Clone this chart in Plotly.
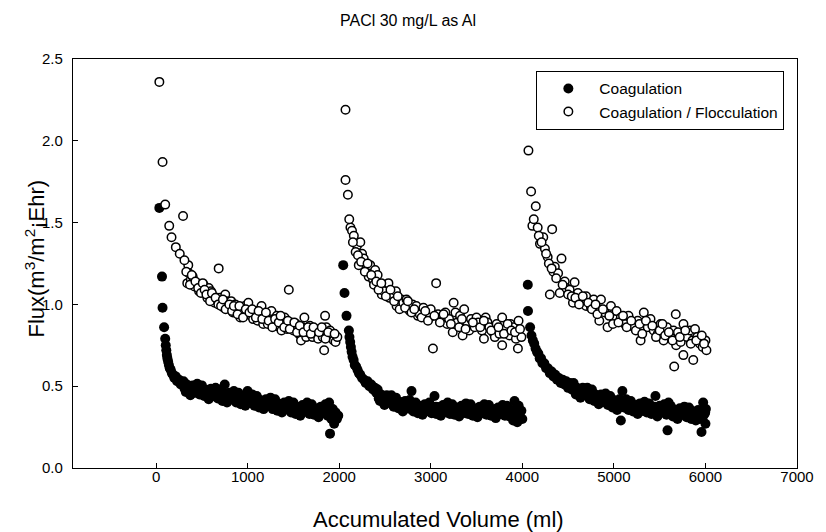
import plotly.graph_objects as go

# ---------------- data ----------------
title_text = "PACl 30 mg/L as Al"
x_title = "Accumulated Volume (ml)"
y_title = "Flux(m<sup>3</sup>/m<sup>2</sup>¡Ehr)"
series_names = ["Coagulation", "Coagulation / Flocculation"]
x_ticks = [0, 1000, 2000, 3000, 4000, 5000, 6000, 7000]
y_ticks = [0.0, 0.5, 1.0, 1.5, 2.0, 2.5]

# Coagulation (filled circles)
coag_volume = [
    36, 65, 71, 88, 100, 106, 112, 118, 124, 132, 140, 150, 160, 172, 185, 200, 215, 230, 250, 270, 285,
    300, 325, 350, 375, 400, 425, 450, 475, 500, 525, 550, 575, 600, 625, 650, 675, 700, 725, 750, 775,
    800, 825, 850, 875, 900, 925, 950, 975, 1000, 1025, 1050, 1075, 1100, 1125, 1150, 1175, 1200, 1225,
    1250, 1275, 1300, 1325, 1350, 1375, 1400, 1425, 1450, 1475, 1500, 1525, 1550, 1575, 1600, 1625, 1650,
    1675, 1700, 1725, 1750, 1775, 1800, 1825, 1850, 1875, 1890, 1900, 1915, 1930, 1945, 1960, 1975, 1990,
    2044, 2058, 2080, 2106, 2112, 2120, 2128, 2136, 2146, 2158, 2170, 2185, 2200, 2215, 2230, 2250, 2270,
    2290, 2310, 2330, 2350, 2370, 2390, 2405,
    2420, 2445, 2470, 2495, 2520, 2545, 2570, 2595, 2620, 2645, 2670, 2695, 2720, 2745, 2770, 2790, 2810,
    2835, 2860, 2885, 2910, 2935, 2960, 2985, 3010, 3041, 3060, 3085, 3110, 3135, 3160, 3185, 3210, 3235,
    3260, 3285, 3310, 3335, 3360, 3385, 3410, 3435, 3460, 3485, 3510, 3535, 3560, 3585, 3610, 3635, 3660,
    3685, 3710, 3735, 3760, 3785, 3810, 3835, 3860, 3885, 3900, 3915, 3930, 3945, 3960, 3975, 3990, 4000,
    4060, 4062, 4085, 4100, 4115, 4130, 4145, 4160, 4175, 4190, 4205, 4220, 4240, 4260, 4280, 4300, 4320,
    4340, 4360, 4380, 4400, 4420, 4440, 4460, 4480, 4500, 4520, 4540,
    4560, 4585, 4610, 4635, 4660, 4685, 4710, 4735, 4760, 4785, 4810, 4835, 4860, 4885, 4910, 4935, 4960,
    4985, 5010, 5035, 5060, 5076, 5093, 5110, 5135, 5160, 5185, 5210, 5235, 5260, 5285, 5310, 5335, 5360,
    5385, 5410, 5435, 5454, 5475, 5500, 5525, 5550, 5575, 5586, 5597, 5620, 5645, 5670, 5695, 5720, 5745,
    5770, 5795, 5820, 5845, 5870, 5895, 5920, 5940, 5957, 5975, 5990, 6000, 6005,
]
coag_flux = [
    1.59, 1.17, 0.98, 0.86, 0.79, 0.75, 0.72, 0.69, 0.67, 0.65, 0.63, 0.61, 0.60, 0.58, 0.57, 0.55, 0.56, 0.53, 0.54, 0.51, 0.52,
    0.53, 0.465, 0.50, 0.445, 0.505, 0.46, 0.515, 0.45, 0.505, 0.44, 0.475, 0.42, 0.485, 0.44, 0.49, 0.425, 0.48, 0.41, 0.51, 0.40,
    0.46, 0.42, 0.47, 0.40, 0.46, 0.39, 0.43, 0.38, 0.47, 0.40, 0.45, 0.38, 0.44, 0.37, 0.41, 0.36, 0.42, 0.38,
    0.43, 0.36, 0.42, 0.35, 0.39, 0.34, 0.40, 0.36, 0.41, 0.34, 0.40, 0.33, 0.37, 0.32, 0.385, 0.345, 0.40,
    0.33, 0.39, 0.325, 0.36, 0.31, 0.375, 0.335, 0.39, 0.32, 0.40, 0.21, 0.30, 0.36, 0.27, 0.34, 0.30, 0.32,
    1.24, 1.07, 0.93, 0.84, 0.80, 0.77, 0.74, 0.71, 0.68, 0.66, 0.63, 0.62, 0.60, 0.58, 0.57, 0.55, 0.54,
    0.52, 0.53, 0.50, 0.51, 0.48, 0.49, 0.46,
    0.48, 0.41, 0.44, 0.385, 0.445, 0.40, 0.445, 0.375, 0.43, 0.365, 0.40, 0.345, 0.41, 0.365, 0.415, 0.47, 0.345,
    0.40, 0.335, 0.375, 0.325, 0.39, 0.35, 0.40, 0.335, 0.44, 0.33, 0.37, 0.32, 0.385, 0.345, 0.40, 0.33, 0.39,
    0.325, 0.365, 0.315, 0.38, 0.34, 0.395, 0.33, 0.39, 0.32, 0.36, 0.31, 0.375, 0.335, 0.39, 0.325, 0.385, 0.32,
    0.355, 0.305, 0.37, 0.33, 0.385, 0.32, 0.38, 0.315, 0.355, 0.29, 0.41, 0.33, 0.28, 0.38, 0.31, 0.35, 0.30,
    1.12, 0.96, 0.86, 0.81, 0.78, 0.76, 0.73, 0.71, 0.70, 0.67, 0.67, 0.64, 0.64, 0.61, 0.61, 0.58, 0.59,
    0.56, 0.57, 0.54, 0.55, 0.52, 0.54, 0.51, 0.53, 0.49, 0.52, 0.48,
    0.52, 0.45, 0.485, 0.43, 0.49, 0.445, 0.49, 0.42, 0.48, 0.41, 0.44, 0.39, 0.45, 0.405, 0.455, 0.385, 0.44,
    0.37, 0.41, 0.355, 0.42, 0.29, 0.47, 0.37, 0.42, 0.355, 0.41, 0.345, 0.38, 0.33, 0.395, 0.35, 0.405, 0.34,
    0.395, 0.33, 0.37, 0.44, 0.315, 0.38, 0.34, 0.39, 0.325, 0.23, 0.40, 0.38, 0.315, 0.355, 0.30, 0.365, 0.325,
    0.375, 0.31, 0.37, 0.30, 0.34, 0.29, 0.355, 0.30, 0.22, 0.40, 0.33, 0.27, 0.36,
]

# additional (interleaved) coagulation readings in the dense bands
coag_volume_dense = [
    312, 337, 362, 387, 412, 437, 462, 487, 512, 537,
    562, 587, 612, 637, 662, 687, 712, 737, 762, 787,
    812, 837, 862, 887, 912, 937, 962, 987, 1012, 1037,
    1062, 1087, 1112, 1137, 1162, 1187, 1212, 1237, 1262, 1287,
    1312, 1337, 1362, 1387, 1412, 1437, 1462, 1487, 1512, 1537,
    1562, 1587, 1612, 1637, 1662, 1687, 1712, 1737, 1762, 1787,
    1812, 1837, 1862,
    2432, 2457, 2482, 2507, 2532, 2557, 2582, 2607, 2632, 2657,
    2682, 2707, 2732, 2757, 2782, 2807, 2832, 2857, 2882, 2907,
    2932, 2957, 2982, 3007, 3032, 3057, 3082, 3107, 3132, 3157,
    3182, 3207, 3232, 3257, 3282, 3307, 3332, 3357, 3382, 3407,
    3432, 3457, 3482, 3507, 3532, 3557, 3582, 3607, 3632, 3657,
    3682, 3707, 3732, 3757, 3782, 3807, 3832, 3857, 3882, 3907,
    3932, 3957,
    4572, 4597, 4622, 4647, 4672, 4697, 4722, 4747, 4772, 4797,
    4822, 4847, 4872, 4897, 4922, 4947, 4972, 4997, 5022, 5047,
    5072, 5097, 5122, 5147, 5172, 5197, 5222, 5247, 5272, 5297,
    5322, 5347, 5372, 5397, 5422, 5447, 5472, 5497, 5522, 5547,
    5572, 5597, 5622, 5647, 5672, 5697, 5722, 5747, 5772, 5797,
    5822, 5847, 5872, 5897, 5922, 5947, 5972, 5997,
]
coag_flux_dense = [
    0.485, 0.51, 0.48, 0.50, 0.465, 0.49, 0.46, 0.485, 0.455, 0.48,
    0.45, 0.475, 0.445, 0.47, 0.435, 0.465, 0.43, 0.455, 0.425, 0.45,
    0.42, 0.445, 0.415, 0.44, 0.41, 0.435, 0.405, 0.43, 0.40, 0.425,
    0.395, 0.42, 0.39, 0.415, 0.385, 0.41, 0.38, 0.405, 0.375, 0.40,
    0.37, 0.395, 0.365, 0.39, 0.36, 0.385, 0.355, 0.38, 0.35, 0.375,
    0.35, 0.375, 0.345, 0.37, 0.345, 0.37, 0.34, 0.365, 0.34, 0.365,
    0.335, 0.36, 0.335,
    0.425, 0.45, 0.415, 0.435, 0.40, 0.425, 0.39, 0.415, 0.38, 0.405,
    0.375, 0.40, 0.365, 0.39, 0.36, 0.385, 0.355, 0.38, 0.35, 0.38,
    0.35, 0.375, 0.345, 0.375, 0.345, 0.375, 0.345, 0.375, 0.345, 0.37,
    0.34, 0.37, 0.34, 0.37, 0.34, 0.37, 0.34, 0.365, 0.335, 0.365,
    0.335, 0.365, 0.335, 0.365, 0.335, 0.36, 0.335, 0.36, 0.33, 0.36,
    0.33, 0.36, 0.33, 0.36, 0.33, 0.355, 0.33, 0.355, 0.325, 0.355,
    0.325, 0.355,
    0.47, 0.49, 0.46, 0.48, 0.45, 0.47, 0.435, 0.46, 0.425, 0.45,
    0.415, 0.44, 0.405, 0.43, 0.40, 0.425, 0.39, 0.415, 0.38, 0.41,
    0.375, 0.405, 0.37, 0.395, 0.365, 0.39, 0.36, 0.385, 0.355, 0.38,
    0.35, 0.38, 0.35, 0.375, 0.345, 0.375, 0.34, 0.37, 0.34, 0.365,
    0.335, 0.36, 0.33, 0.36, 0.33, 0.355, 0.325, 0.355, 0.325, 0.35,
    0.32, 0.35, 0.32, 0.345, 0.315, 0.345, 0.315, 0.34,
]

# Coagulation / Flocculation (open circles)
floc_volume = [
    36, 71, 100, 144, 169, 216, 259, 295, 352, 360, 341, 380, 400, 420, 450, 470, 500, 520, 540, 560, 576,
    600, 620, 640, 666, 684, 700, 720, 740, 756, 770, 790, 820, 840, 864, 880, 900, 920, 940, 970, 990,
    1008, 1040, 1060, 1080, 1110, 1130, 1152, 1170, 1190, 1220, 1240, 1260, 1290, 1310, 1320, 1350, 1370,
    1380, 1404, 1420, 1430, 1450, 1470, 1490, 1500, 1530, 1550, 1560, 1583, 1600, 1620, 1640, 1650, 1680,
    1700, 1710, 1740, 1760, 1770, 1800, 1820, 1836, 1846, 1860, 1870, 1900, 1920, 1940, 1960, 1980,
    2069, 2069, 2095, 2123, 2140, 2160, 2196, 2214, 2231, 2250, 2268, 2300, 2322, 2339, 2370, 2393, 2420,
    2447, 2465, 2490, 2538, 2550, 2580, 2620, 2627, 2660, 2680, 2700, 2735, 2771, 2800, 2843, 2860, 2880,
    2920, 2951, 2990, 3000, 3024, 3059, 3080, 3110, 3131, 3160, 3180, 3200, 3240, 3250, 3270, 3290, 3320,
    3348, 3365, 3400, 3420, 3440, 3480, 3500, 3520, 3560, 3581, 3600, 3620, 3640, 3680, 3700, 3720, 3750,
    3780, 3780, 3820, 3860, 3870, 3900, 3930, 3952, 3959, 3990,
    4067, 4096, 4110, 4147, 4168, 4193, 4229, 4247, 4277, 4301, 4326, 4340, 4355, 4391, 4409, 4428, 4463,
    4480, 4517, 4553, 4571, 4607, 4640, 4697, 4697, 4750, 4780, 4841, 4859, 4900, 4931, 4968, 5000, 5030,
    5076, 5120, 5160, 5219, 5260, 5292, 5327, 5370, 5400, 5435, 5480, 5510, 5543, 5580, 5620, 5651, 5659,
    5676, 5680, 5700, 5730, 5759, 5760, 5800, 5830, 5860, 5867, 5886, 5910, 5940, 5970, 6000, 6011,
]
floc_flux = [
    2.36, 1.87, 1.61, 1.48, 1.41, 1.35, 1.31, 1.54, 1.24, 1.19, 1.13, 1.15, 1.17, 1.11, 1.13, 1.08, 1.10, 1.12, 1.07, 1.04, 1.10,
    1.08, 1.05, 1.01, 1.04, 1.22, 1.04, 1.02, 0.98, 1.06, 1.02, 0.99, 1.02, 0.95, 1.00, 0.98, 0.97, 0.92, 0.95, 0.99, 0.94,
    1.01, 0.93, 0.91, 0.96, 0.90, 0.94, 0.99, 0.88, 0.92, 0.88, 0.91, 0.96, 0.89, 0.87, 0.93, 0.86, 0.84,
    0.90, 0.92, 0.88, 0.85, 1.09, 0.89, 0.86, 0.84, 0.88, 0.86, 0.82, 0.78, 0.86, 0.92, 0.80, 0.83, 0.87,
    0.84, 0.80, 0.85, 0.82, 0.79, 0.83, 0.80, 0.72, 0.93, 0.86, 0.80, 0.84, 0.81, 0.78, 0.77, 0.80,
    2.19, 1.76, 1.67, 1.47, 1.45, 1.42, 1.36, 1.24, 1.38, 1.31, 1.28, 1.22, 1.17, 1.24, 1.15, 1.21, 1.18,
    1.11, 1.06, 1.08, 1.13, 1.04, 1.06, 1.08, 0.99, 0.97, 1.03, 1.01, 1.03, 0.96, 1.00, 0.99, 0.93, 0.94,
    0.98, 0.95, 0.92, 0.97, 0.73, 1.13, 0.94, 0.92, 0.90, 0.95, 0.88, 0.91, 0.83, 1.01, 0.95, 0.89, 0.93,
    0.81, 0.97, 0.88, 0.84, 0.91, 0.86, 0.92, 0.89, 0.84, 0.79, 0.92, 0.89, 0.86, 0.83, 0.80, 0.88, 0.82,
    0.92, 0.75, 0.85, 0.81, 0.88, 0.86, 0.79, 0.73, 0.90, 0.80,
    1.94, 1.69, 1.48, 1.60, 1.47, 1.37, 1.41, 1.34, 1.29, 1.06, 1.46, 1.20, 1.23, 1.19, 1.07, 1.28, 1.14,
    1.10, 1.09, 1.01, 1.135, 1.07, 1.02, 1.05, 0.99, 0.98, 1.03, 0.90, 1.03, 0.95, 0.86, 0.99, 0.91, 0.96,
    0.92, 0.88, 0.93, 0.86, 0.90, 0.78, 0.95, 0.86, 0.91, 0.84, 0.82, 0.88, 0.78, 0.86, 0.80, 0.84, 0.62,
    0.94, 0.75, 0.83, 0.77, 0.69, 0.88, 0.80, 0.84, 0.78, 0.66, 0.85, 0.80, 0.76, 0.74, 0.78, 0.72,
]

# additional coagulation/flocculation readings in the dense bands
floc_volume_dense = [
    310, 330, 370, 390, 430, 460, 490, 510, 530, 550,
    590, 610, 650, 680, 710, 730, 760, 800, 830, 850,
    890, 910, 950, 980, 1020, 1050, 1090, 1120, 1160, 1200,
    1230, 1270, 1300, 1340, 1360, 1400, 1440, 1460, 1510, 1540,
    1570, 1610, 1660, 1690, 1720, 1780, 1810, 1850, 1880, 1950,
    2110, 2150, 2180, 2205, 2240, 2280, 2310, 2350, 2380, 2405,
    2430, 2460, 2510, 2560, 2600, 2640, 2720, 2750, 2790, 2820,
    2900, 2940, 2970, 3040, 3100, 3140, 3220, 3310, 3340, 3380,
    3460, 3540, 3580, 3660, 3740, 3800, 3840, 3880, 3920, 3975,
    4125, 4180, 4210, 4260, 4290, 4320, 4370, 4440, 4500, 4540,
    4580, 4620, 4660, 4720, 4760, 4800, 4820, 4880, 4950, 4990,
    5050, 5100, 5140, 5190, 5240, 5280, 5310, 5350, 5420, 5460,
    5500, 5530, 5560, 5600, 5640, 5720, 5780, 5840, 5900, 5960,
    5985,
]
floc_flux_dense = [
    1.27, 1.20, 1.12, 1.18, 1.14, 1.10, 1.07, 1.13, 1.09, 1.06,
    1.02, 1.07, 1.04, 1.00, 0.99, 1.03, 0.97, 1.00, 0.96, 0.99,
    0.94, 0.99, 0.92, 0.97, 0.95, 0.97, 0.92, 0.96, 0.91, 0.95,
    0.90, 0.86, 0.91, 0.89, 0.93, 0.86, 0.90, 0.85, 0.89, 0.83,
    0.87, 0.83, 0.86, 0.82, 0.86, 0.83, 0.86, 0.79, 0.83, 0.82,
    1.52, 1.38, 1.32, 1.30, 1.26, 1.20, 1.25, 1.18, 1.12, 1.14,
    1.09, 1.13, 1.05, 1.09, 1.02, 1.05, 0.98, 1.02, 0.95, 0.97,
    0.92, 0.96, 0.90, 0.93, 0.89, 0.94, 0.88, 0.86, 0.91, 0.85,
    0.89, 0.86, 0.90, 0.84, 0.86, 0.82, 0.88, 0.84, 0.83, 0.85,
    1.52, 1.42, 1.38, 1.31, 1.25, 1.22, 1.16, 1.12, 1.06, 1.05,
    1.04, 1.00, 1.05, 1.01, 0.97, 1.00, 0.94, 0.97, 0.93, 0.88,
    0.89, 0.93, 0.86, 0.90, 0.84, 0.88, 0.82, 0.90, 0.87, 0.80,
    0.84, 0.88, 0.81, 0.83, 0.78, 0.80, 0.84, 0.76, 0.78, 0.81,
    0.76,
]

# ---------------- figure ----------------
FONT = "Liberation Sans, Arial, sans-serif"

fig = go.Figure()
fig.add_trace(go.Scatter(
    x=coag_volume + coag_volume_dense, y=coag_flux + coag_flux_dense,
    mode="markers", name=series_names[0],
    marker=dict(symbol="circle", size=10, color="black", line=dict(width=0)),
))
fig.add_trace(go.Scatter(
    x=floc_volume + floc_volume_dense, y=floc_flux + floc_flux_dense,
    mode="markers", name=series_names[1],
    marker=dict(symbol="circle", size=8.5, color="white", line=dict(width=1.5, color="black")),
))

axis_common = dict(
    showline=True, linecolor="black", linewidth=1.2, mirror=True,
    ticks="inside", ticklen=5, tickcolor="black", tickwidth=1,
    showgrid=False, zeroline=False,
    tickfont=dict(family=FONT, size=15, color="black"),
)
fig.update_xaxes(range=[-907, 7000], tickvals=x_ticks, ticklabelstandoff=-5, **axis_common)
fig.update_yaxes(range=[0, 2.5], tickvals=y_ticks, tickformat=".1f",
                 ticklabelstandoff=6, **axis_common)

# page body adds an 8px offset, so the figure is sized 818x524
fig.update_layout(
    width=818, height=524,
    margin=dict(l=65, r=20, t=51, b=64),
    paper_bgcolor="white", plot_bgcolor="white",
    font=dict(family=FONT, color="black"),
    showlegend=True,
    legend=dict(
        x=0.64, y=0.971, xanchor="left", yanchor="top",
        bordercolor="black", borderwidth=1, bgcolor="white",
        font=dict(family=FONT, size=15.5, color="black"),
        tracegroupgap=0, itemwidth=52,
    ),
    annotations=[
        dict(text=title_text, xref="paper", yref="paper", x=0.4625, y=1.095,
             xanchor="center", yanchor="middle", showarrow=False,
             font=dict(family=FONT, size=16, color="black")),
        dict(text=x_title, xref="paper", yref="paper", x=0.505, y=-0.1247,
             xanchor="center", yanchor="middle", showarrow=False,
             font=dict(family=FONT, size=22, color="black")),
        dict(text=y_title, xref="paper", yref="paper", x=-0.052, y=0.513,
             xanchor="center", yanchor="middle", showarrow=False, textangle=-90,
             font=dict(family=FONT, size=22, color="black")),
    ],
)

fig.write_html("out.html")
